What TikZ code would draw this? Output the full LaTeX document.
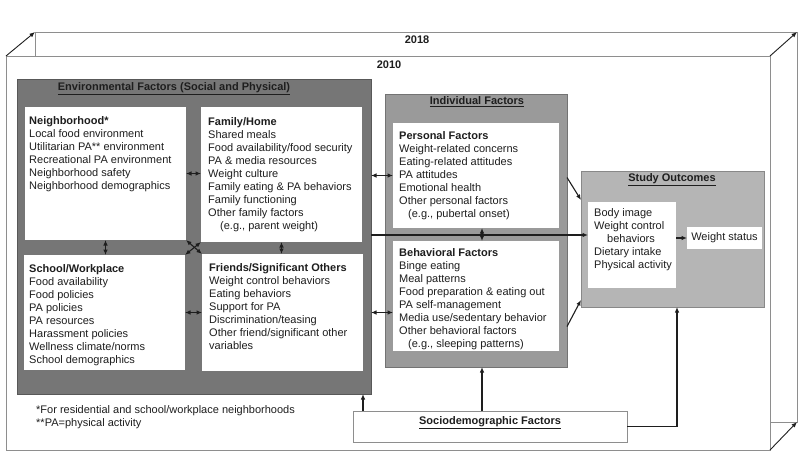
\documentclass[tikz,border=0pt]{standalone}
\usepackage{fontspec}
\setsansfont{Liberation Sans}
\usetikzlibrary{arrows.meta}

\definecolor{envgray}{HTML}{767676}
\definecolor{indgray}{HTML}{9A9A9A}
\definecolor{outgray}{HTML}{B5B5B5}
\definecolor{planegray}{HTML}{8E8E8E}
\definecolor{inkgray}{HTML}{1E1E1E}

\begin{document}
\begin{tikzpicture}[
    x=1pt, y=-1pt,
    % GLOBAL CFG
    font=\sffamily\fontsize{11}{13}\selectfont,
    text=inkgray,
    >={Latex[length=5.5pt,width=4.5pt]},
    % Styles
    yearplane/.style={% For the 2010 and 2018 planes
        rectangle,
        draw=planegray,
        line width=0.9pt,
        inner sep=0pt,
        outer sep=0pt,
        },
    panel/.style={% For the gray group boxes
        rectangle,
        draw=#1!75!black,
        fill=#1,
        line width=0.9pt,
        inner sep=0pt,
        outer sep=0pt,
        },
    factor/.style={% For the white boxes
        rectangle,
        fill=white,
        inner sep=0pt,
        outer sep=0pt,
        },
    itemtext/.style={% Lists inside the boxes
        anchor=north west,
        align=left,
        inner sep=0pt,
        },
    boxtitle/.style={% Underlined titles
        font=\sffamily\bfseries\fontsize{11}{13}\selectfont,
        inner sep=0pt,
        },
    ArrowC1/.style={% Plain connectors
        line width=1.1pt,
        draw=inkgray,
        },
    ArrowC2/.style={% Year arrows
        line width=0.9pt,
        draw=inkgray,
        },
    ]

\useasboundingbox (0,0) rectangle (800,453);

%Start drawing the thing...
    % Year planes
    \node [yearplane, minimum width=762pt, minimum height=390pt] (y2018) at (416,227) {};
    \node [yearplane, fill=white, minimum width=764pt, minimum height=394pt] (y2010) at (388,253) {};
    \draw [->, ArrowC2] (y2010.north west) -- (y2018.north west);
    \draw [->, ArrowC2] (y2010.north east) -- (y2018.north east);
    \draw [->, ArrowC2] (y2010.south east) -- (y2018.south east);
    \node [boxtitle] (t2018) at (417,40) {2018};
    \node [boxtitle] (t2010) at (389,65) {2010};

    % Environmental factors
    \node [panel=envgray, minimum width=354pt, minimum height=315pt] (env) at (194,236.5) {};
    \node [boxtitle] (envtitle) at (174,88.5) {\underline{Environmental Factors (Social and Physical)}};

    \node [factor, minimum width=161pt, minimum height=133pt] (nbhd) at (105.5,173.5) {};
    \node [factor, minimum width=161pt, minimum height=135pt] (family) at (281.5,174.5) {};
    \node [factor, minimum width=161pt, minimum height=115pt] (school) at (104.5,312.5) {};
    \node [factor, minimum width=161pt, minimum height=117pt] (friends) at (282.5,312.5) {};

    \node [itemtext] (nbhdtext) at (29,116) {\textbf{Neighborhood*}\\Local food environment\\Utilitarian PA** environment\\Recreational PA environment\\Neighborhood safety\\Neighborhood demographics};
    \node [itemtext] (familytext) at (208,117) {\textbf{Family/Home}\\Shared meals\\Food availability/food security\\PA \& media resources\\Weight culture\\Family eating \& PA behaviors\\Family functioning\\Other family factors\\\hspace*{12pt}(e.g., parent weight)};
    \node [itemtext] (schooltext) at (29,264) {\textbf{School/Workplace}\\Food availability\\Food policies\\PA policies\\PA resources\\Harassment policies\\Wellness climate/norms\\School demographics};
    \node [itemtext] (friendstext) at (209,263) {\textbf{Friends/Significant Others}\\Weight control behaviors\\Eating behaviors\\Support for PA\\Discrimination/teasing\\Other friend/significant other\\variables};

    % Individual factors
    \node [panel=indgray, minimum width=182pt, minimum height=273pt] (indiv) at (476,230.5) {};
    \node [boxtitle] (indivtitle) at (477,102) {\underline{Individual Factors}};

    \node [factor, minimum width=166pt, minimum height=105pt] (personal) at (476,175.5) {};
    \node [factor, minimum width=166pt, minimum height=110pt] (behav) at (476,296) {};

    \node [itemtext] (personaltext) at (399,131) {\textbf{Personal Factors}\\Weight-related concerns\\Eating-related attitudes\\PA attitudes\\Emotional health\\Other personal factors\\\hspace*{9pt}(e.g., pubertal onset)};
    \node [itemtext] (behavtext) at (399,248) {\textbf{Behavioral Factors}\\Binge eating\\Meal patterns\\Food preparation \& eating out\\PA self-management\\Media use/sedentary behavior\\Other behavioral factors\\\hspace*{9pt}(e.g., sleeping patterns)};

    % Study outcomes
    \node [panel=outgray, minimum width=183pt, minimum height=136pt] (outcomes) at (672.5,239) {};
    \node [boxtitle] (outtitle) at (672,180) {\underline{Study Outcomes}};
    \node [factor, minimum width=88pt, minimum height=86pt] (outin) at (632,245) {};
    \node [itemtext] (outintext) at (594,208) {Body image\\Weight control\\\hspace*{13pt}behaviors\\Dietary intake\\Physical activity};
    \node [factor, minimum width=75pt, minimum height=22pt] (wstatus) at (724.5,238) {Weight status};

    % Sociodemographic factors
    \node [factor, draw=planegray, line width=0.9pt, minimum width=274pt, minimum height=31pt] (socio) at (490,426.5) {};
    \node [boxtitle] (sociotitle) at (490,423) {\underline{Sociodemographic Factors}};

    % Footnotes
    \node [itemtext] (notes) at (36,405) {*For residential and school/workplace neighborhoods\\**PA=physical activity};

% Start connecting all.
    % Inside the environment
    \draw [<->, ArrowC1] (nbhd.east) -- (nbhd.east -| family.west);
    \draw [<->, ArrowC1] (school.east) -- (school.east -| friends.west);
    \draw [<->, ArrowC1] (nbhd.south) -- (nbhd.south |- school.north);
    \draw [<->, ArrowC1] (family.south) -- (family.south |- friends.north);
    \draw [<->, ArrowC1] (nbhd.south east) -- (friends.north west);
    \draw [<->, ArrowC1] (family.south west) -- (school.north east);

    % Environment and individual
    \draw [<->, ArrowC1] (env.east |- personal.west) -- (personal.west);
    \draw [<->, ArrowC1] (env.east |- friends.east) -- (behav.west |- friends.east);
    \draw [<->, ArrowC1] ([xshift=6pt]personal.south) -- ([xshift=6pt]behav.north);

    % To the outcomes
    \coordinate (trunk) at (371,235);
    \draw [->, ArrowC1] (trunk) -- (trunk -| outin.west);
    \draw [->, ArrowC1] ([yshift=53pt]indiv.east) -- ([yshift=39pt]outcomes.west);
    \draw [->, ArrowC1] ([yshift=-96pt]indiv.east) -- ([yshift=-61pt]outcomes.west);
    \draw [->, ArrowC1] (outin.east |- wstatus.west) -- (wstatus.west);

    % Sociodemographic
    \draw [->, ArrowC1] ([xshift=10pt]socio.north west) -- ([xshift=10pt]socio.north west |- env.south);
    \draw [->, ArrowC1] ([xshift=6pt]indiv.south |- socio.north) -- ([xshift=6pt]indiv.south);
    \draw [->, ArrowC1] (socio.east) -| ([xshift=4.5pt]outcomes.south);

\end{tikzpicture}
\end{document}
